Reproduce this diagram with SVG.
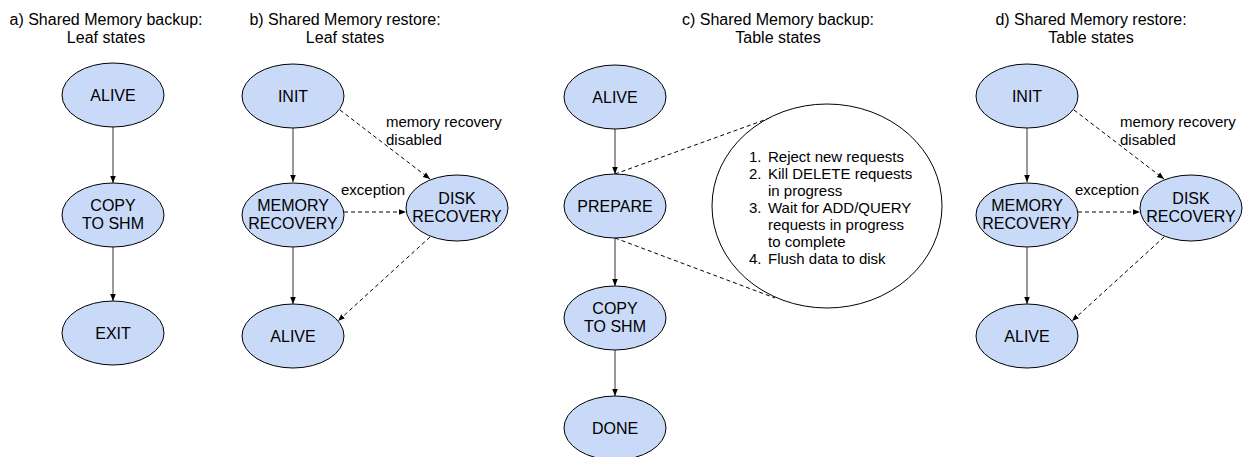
<svg xmlns="http://www.w3.org/2000/svg" width="1244" height="457" viewBox="0 0 1244 457">
  <defs>
    <marker id="arrow" viewBox="0 0 8 8" refX="8" refY="4" markerWidth="7" markerHeight="7" markerUnits="userSpaceOnUse" orient="auto">
      <path d="M0,0.8 L8,4 L0,7.2 Z" fill="#000"/>
    </marker>
    <style>
      .state { fill: #c9daf8; stroke: #000; stroke-width: 1; }
      .note { fill: #fff; stroke: #000; stroke-width: 1; }
      text { font-family: "Liberation Sans", Arial, sans-serif; fill: #000; }
      .title { font-size: 16px; text-anchor: middle; }
      .label { font-size: 16px; text-anchor: middle; }
      .edge-label { font-size: 15px; }
      .list { font-size: 15px; }
      .solid { stroke: #333; stroke-width: 1; fill: none; marker-end: url(#arrow); }
      .dashed { stroke: #000; stroke-width: 1; fill: none; stroke-dasharray: 4 3; marker-end: url(#arrow); }
      .guide { stroke: #000; stroke-width: 1; fill: none; stroke-dasharray: 4 3; }
    </style>
  </defs>

  <!-- Panel titles -->
  <g id="titles">
    <text class="title" x="106" y="25">a) Shared Memory backup:</text>
    <text class="title" x="106" y="43">Leaf states</text>
    <text class="title" x="345" y="25">b) Shared Memory restore:</text>
    <text class="title" x="345" y="43">Leaf states</text>
    <text class="title" x="778" y="25">c) Shared Memory backup:</text>
    <text class="title" x="778" y="43">Table states</text>
    <text class="title" x="1091" y="25">d) Shared Memory restore:</text>
    <text class="title" x="1091" y="43">Table states</text>
  </g>

  <!-- Connectors -->
  <g id="connectors">
    <!-- a) leaf backup -->
    <line class="solid" x1="113" y1="127" x2="113" y2="183"/>
    <line class="solid" x1="113" y1="247" x2="113" y2="301"/>
    <!-- b) leaf restore -->
    <line class="solid" x1="293" y1="128" x2="293" y2="182"/>
    <line class="solid" x1="293" y1="247" x2="293" y2="304"/>
    <line class="dashed" x1="340" y1="110" x2="430" y2="179"/>
    <line class="dashed" x1="344" y1="212" x2="406" y2="212"/>
    <line class="dashed" x1="430" y1="237" x2="338" y2="321"/>
    <!-- c) table backup -->
    <line class="solid" x1="615" y1="129" x2="615" y2="174"/>
    <line class="solid" x1="615" y1="238" x2="615" y2="286"/>
    <line class="solid" x1="615" y1="350" x2="615" y2="396"/>
    <line class="guide" x1="615" y1="174" x2="781" y2="114"/>
    <line class="guide" x1="615" y1="238" x2="775" y2="298"/>
    <!-- d) table restore -->
    <line class="solid" x1="1027" y1="128" x2="1027" y2="182"/>
    <line class="solid" x1="1027" y1="247" x2="1027" y2="304"/>
    <line class="dashed" x1="1074" y1="110" x2="1164" y2="179"/>
    <line class="dashed" x1="1078" y1="212" x2="1140" y2="212"/>
    <line class="dashed" x1="1164" y1="237" x2="1072" y2="321"/>
  </g>

  <!-- Connector labels -->
  <g id="edge-labels">
    <text class="edge-label" x="386" y="127">memory recovery</text>
    <text class="edge-label" x="386" y="145">disabled</text>
    <text class="edge-label" x="341" y="195">exception</text>
    <text class="edge-label" x="1120" y="127">memory recovery</text>
    <text class="edge-label" x="1120" y="145">disabled</text>
    <text class="edge-label" x="1075" y="195">exception</text>
  </g>

  <!-- a) Shared Memory backup: Leaf states -->
  <g id="a-alive">
    <ellipse class="state" cx="113" cy="95" rx="51" ry="32"/>
    <text class="label" x="113" y="101">ALIVE</text>
  </g>
  <g id="a-copy">
    <ellipse class="state" cx="113" cy="215" rx="51" ry="32"/>
    <text class="label" x="113" y="211">COPY</text>
    <text class="label" x="113" y="229">TO SHM</text>
  </g>
  <g id="a-exit">
    <ellipse class="state" cx="113" cy="333" rx="51" ry="32"/>
    <text class="label" x="113" y="339">EXIT</text>
  </g>

  <!-- b) Shared Memory restore: Leaf states -->
  <g id="b-init">
    <ellipse class="state" cx="293" cy="96" rx="51" ry="32"/>
    <text class="label" x="293" y="102">INIT</text>
  </g>
  <g id="b-memory-recovery">
    <ellipse class="state" cx="293" cy="215" rx="51" ry="32"/>
    <text class="label" x="293" y="211">MEMORY</text>
    <text class="label" x="293" y="229">RECOVERY</text>
  </g>
  <g id="b-disk-recovery">
    <ellipse class="state" cx="457" cy="208" rx="51" ry="33"/>
    <text class="label" x="457" y="204">DISK</text>
    <text class="label" x="457" y="222">RECOVERY</text>
  </g>
  <g id="b-alive">
    <ellipse class="state" cx="293" cy="336" rx="51" ry="32"/>
    <text class="label" x="293" y="342">ALIVE</text>
  </g>

  <!-- c) Shared Memory backup: Table states -->
  <g id="c-alive">
    <ellipse class="state" cx="615" cy="97" rx="51" ry="32"/>
    <text class="label" x="615" y="103">ALIVE</text>
  </g>
  <g id="c-prepare">
    <ellipse class="state" cx="615" cy="206" rx="51" ry="32"/>
    <text class="label" x="615" y="212">PREPARE</text>
  </g>
  <g id="c-copy">
    <ellipse class="state" cx="615" cy="318" rx="51" ry="32"/>
    <text class="label" x="615" y="314">COPY</text>
    <text class="label" x="615" y="332">TO SHM</text>
  </g>
  <g id="c-done">
    <ellipse class="state" cx="615" cy="428" rx="51" ry="32"/>
    <text class="label" x="615" y="434">DONE</text>
  </g>
  <g id="c-prepare-steps">
    <ellipse class="note" cx="827" cy="206" rx="115" ry="102"/>
    <text class="list" x="749" y="162">1.</text>
    <text class="list" x="768" y="162">Reject new requests</text>
    <text class="list" x="749" y="179">2.</text>
    <text class="list" x="768" y="179">Kill DELETE requests</text>
    <text class="list" x="768" y="196">in progress</text>
    <text class="list" x="749" y="213">3.</text>
    <text class="list" x="768" y="213">Wait for ADD/QUERY</text>
    <text class="list" x="768" y="230">requests in progress</text>
    <text class="list" x="768" y="247">to complete</text>
    <text class="list" x="749" y="264">4.</text>
    <text class="list" x="768" y="264">Flush data to disk</text>
  </g>

  <!-- d) Shared Memory restore: Table states -->
  <g id="d-init">
    <ellipse class="state" cx="1027" cy="96" rx="51" ry="32"/>
    <text class="label" x="1027" y="102">INIT</text>
  </g>
  <g id="d-memory-recovery">
    <ellipse class="state" cx="1027" cy="215" rx="51" ry="32"/>
    <text class="label" x="1027" y="211">MEMORY</text>
    <text class="label" x="1027" y="229">RECOVERY</text>
  </g>
  <g id="d-disk-recovery">
    <ellipse class="state" cx="1191" cy="208" rx="51" ry="33"/>
    <text class="label" x="1191" y="204">DISK</text>
    <text class="label" x="1191" y="222">RECOVERY</text>
  </g>
  <g id="d-alive">
    <ellipse class="state" cx="1027" cy="336" rx="51" ry="32"/>
    <text class="label" x="1027" y="342">ALIVE</text>
  </g>
</svg>
